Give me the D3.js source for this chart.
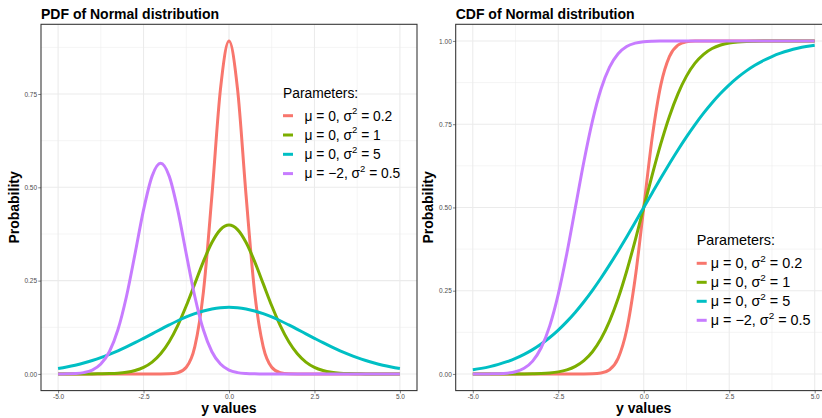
<!DOCTYPE html>
<html>
<head>
<meta charset="utf-8">
<script src="https://cdn.jsdelivr.net/npm/d3@7/dist/d3.min.js"></script>
<style>
  html, body { margin: 0; padding: 0; background: #fff; }
  svg { display: block; }
  text { font-family: "Liberation Sans", Arial, Helvetica, sans-serif; }
</style>
</head>
<body>
<svg id="chart" width="822" height="418"></svg>
<script>
// ---------------- data ----------------
const xValues = [-5,-4.75,-4.5,-4.25,-4,-3.75,-3.5,-3.25,-3,-2.75,-2.5,-2.25,-2,-1.75,-1.5,-1.25,-1,-0.75,-0.5,-0.25,0,
  0.25,0.5,0.75,1,1.25,1.5,1.75,2,2.25,2.5,2.75,3,3.25,3.5,3.75,4,4.25,4.5,4.75,5];

const seriesNames = ["a", "b", "c", "d"];
const muLabels = ["0", "0", "0", "\u22122"];
const sigma2Labels = ["0.2", "1", "5", "0.5"];
const seriesColors = ["#F8766D", "#7CAE00", "#00BFC4", "#C77CFF"];

// PDF values
const pdfA = [0,0,0,0,0,0,0,0,0,0,0,0,0.00004,0.0004,0.0032,0.0179,0.0732,0.2186,0.4775,0.7630,0.8921,
  0.7630,0.4775,0.2186,0.0732,0.0179,0.0032,0.0004,0.00004,0,0,0,0,0,0,0,0,0,0,0,0];
const pdfB = [0,0.00001,0.00002,0.00005,0.0001,0.0004,0.0009,0.0020,0.0044,0.0091,0.0175,0.0317,0.0540,0.0863,0.1295,0.1826,0.2420,0.3011,0.3521,0.3867,0.3989,
  0.3867,0.3521,0.3011,0.2420,0.1826,0.1295,0.0863,0.0540,0.0317,0.0175,0.0091,0.0044,0.0020,0.0009,0.0004,0.0001,0.00005,0.00002,0.00001,0];
const pdfC = [0.0146,0.0187,0.0235,0.0293,0.0360,0.0437,0.0524,0.0620,0.0725,0.0837,0.0955,0.1075,0.1196,0.1313,0.1425,0.1526,0.1614,0.1687,0.1740,0.1773,0.1784,
  0.1773,0.1740,0.1687,0.1614,0.1526,0.1425,0.1313,0.1196,0.1075,0.0955,0.0837,0.0725,0.0620,0.0524,0.0437,0.0360,0.0293,0.0235,0.0187,0.0146];
const pdfD = [0.00007,0.00029,0.00109,0.00357,0.01033,0.0264,0.0595,0.1183,0.2076,0.3215,0.4394,0.5300,0.5642,0.5300,0.4394,0.3215,0.2076,0.1183,0.0595,0.0264,0.01033,
  0.00357,0.00109,0.00029,0.00007,0,0,0,0,0,0,0,0,0,0,0,0,0,0,0,0];

// CDF values
const cdfA = [0,0,0,0,0,0,0,0,0,0,0,0,0,0.00005,0.0004,0.0026,0.0127,0.0468,0.1318,0.2881,0.5,
  0.7119,0.8682,0.9532,0.9873,0.9974,0.9996,0.99995,1,1,1,1,1,1,1,1,1,1,1,1,1];
const cdfB = [0,0,0,0.00001,0.00003,0.0001,0.0002,0.0006,0.0013,0.0030,0.0062,0.0122,0.0228,0.0401,0.0668,0.1056,0.1587,0.2266,0.3085,0.4013,0.5,
  0.5987,0.6915,0.7734,0.8413,0.8944,0.9332,0.9599,0.9772,0.9878,0.9938,0.9970,0.9987,0.9994,0.9998,0.9999,0.99997,0.99999,1,1,1];
const cdfC = [0.0127,0.0168,0.0221,0.0287,0.0368,0.0468,0.0588,0.0731,0.0899,0.1094,0.1318,0.1572,0.1855,0.2169,0.2512,0.2881,0.3274,0.3687,0.4115,0.4555,0.5,
  0.5445,0.5885,0.6313,0.6726,0.7119,0.7488,0.7831,0.8145,0.8428,0.8682,0.8906,0.9101,0.9269,0.9412,0.9532,0.9632,0.9713,0.9779,0.9832,0.9873];
const cdfD = [0.00001,0.00005,0.0002,0.0007,0.0023,0.0067,0.0169,0.0385,0.0786,0.1444,0.2398,0.3618,0.5,0.6382,0.7602,0.8556,0.9214,0.9615,0.9831,0.9933,0.9977,
  0.9993,0.9998,0.99995,1,1,1,1,1,1,1,1,1,1,1,1,1,1,1,1,1];

const xTicks = [-5, -2.5, 0, 2.5, 5];
const yTicks = [0, 0.25, 0.5, 0.75, 1];
const panelTitles = ["PDF of Normal distribution", "CDF of Normal distribution"];
const xTitle = "y values";
const yTitle = "Probability";
const legendTitle = "Parameters:";

// ---------------- layout ----------------
const svg = d3.select("#chart");
svg.append("rect").attr("width", 822).attr("height", 418).attr("fill", "#fff");

const panels = [
  { left: 41, right: 417, series: [pdfA, pdfB, pdfC, pdfD],
    legend: { x: 283, titleY: 98, y0: 115.7, step: 19.3, textX: 304.5, fs: 13.8 } },
  { left: 455.7, right: 831.8, series: [cdfA, cdfB, cdfC, cdfD],
    legend: { x: 696.7, titleY: 245, y0: 263.3, step: 19, textX: 710.7, fs: 14.4 } }
];
const panelTop = 24.3, panelBottom = 390.6;

panels.forEach((p, pi) => {
  const g = svg.append("g");
  const x = d3.scaleLinear().domain([-5.5, 5.5]).range([p.left, p.right]);
  const allY = p.series.flat();
  const ymin = d3.min(allY), ymax = d3.max(allY);
  const pad = (ymax - ymin) * 0.05;
  const y = d3.scaleLinear().domain([ymin - pad, ymax + pad]).range([panelBottom, panelTop]);

  const yT = yTicks.filter(v => v >= y.domain()[0] && v <= y.domain()[1]);
  const yMinor = [];
  for (let i = 0; i < yT.length - 1; i++) yMinor.push((yT[i] + yT[i + 1]) / 2);
  const yNext = yT[yT.length - 1] + 0.125;
  if (yNext <= y.domain()[1]) yMinor.push(yNext);
  const xMinor = [];
  for (let i = 0; i < xTicks.length - 1; i++) xMinor.push((xTicks[i] + xTicks[i + 1]) / 2);

  // grid
  const grid = g.append("g");
  grid.selectAll(".ymin").data(yMinor).join("line")
    .attr("x1", p.left).attr("x2", p.right).attr("y1", d => y(d)).attr("y2", d => y(d))
    .attr("stroke", "#EBEBEB").attr("stroke-width", 0.55);
  grid.selectAll(".xmin").data(xMinor).join("line")
    .attr("y1", panelTop).attr("y2", panelBottom).attr("x1", d => x(d)).attr("x2", d => x(d))
    .attr("stroke", "#EBEBEB").attr("stroke-width", 0.55);
  grid.selectAll(".ymaj").data(yT).join("line")
    .attr("x1", p.left).attr("x2", p.right).attr("y1", d => y(d)).attr("y2", d => y(d))
    .attr("stroke", "#EBEBEB").attr("stroke-width", 1.07);
  grid.selectAll(".xmaj").data(xTicks).join("line")
    .attr("y1", panelTop).attr("y2", panelBottom).attr("x1", d => x(d)).attr("x2", d => x(d))
    .attr("stroke", "#EBEBEB").attr("stroke-width", 1.07);

  // lines
  const clipId = "clip" + pi;
  svg.append("clipPath").attr("id", clipId).append("rect")
    .attr("x", p.left).attr("y", panelTop).attr("width", p.right - p.left).attr("height", panelBottom - panelTop);
  const line = d3.line().x((d, i) => x(xValues[i])).y(d => y(d)).curve(d3.curveMonotoneX);
  g.append("g").attr("clip-path", `url(#${clipId})`)
    .selectAll("path").data(p.series).join("path")
    .attr("d", d => line(d))
    .attr("fill", "none")
    .attr("stroke", (d, i) => seriesColors[i])
    .attr("stroke-width", 3);

  // border
  g.append("rect").attr("x", p.left).attr("y", panelTop)
    .attr("width", p.right - p.left).attr("height", panelBottom - panelTop)
    .attr("fill", "none").attr("stroke", "#333333").attr("stroke-width", 1.07);

  // axes
  const yAxis = d3.axisLeft(y).tickValues(yT).tickSize(2.75).tickPadding(1.2)
    .tickFormat(d => d.toFixed(2));
  const ya = g.append("g").attr("transform", `translate(${p.left},0)`).call(yAxis);
  const xAxis = d3.axisBottom(x).tickValues(xTicks).tickSize(2.75).tickPadding(0.8)
    .tickFormat(d => d.toFixed(1));
  const xa = g.append("g").attr("transform", `translate(0,${panelBottom})`).call(xAxis);
  [ya, xa].forEach(a => {
    a.select(".domain").remove();
    a.selectAll(".tick line").attr("stroke", "#333333").attr("stroke-width", 0.6);
    a.selectAll(".tick text").attr("fill", "#4D4D4D").style("font-size", "6.5px")
      .style("font-family", '"Liberation Sans", Arial, sans-serif');
  });

  // titles
  g.append("text").attr("x", p.left).attr("y", 19)
    .style("font-size", "14px").style("font-weight", "bold").attr("fill", "#000")
    .text(panelTitles[pi]);
  g.append("text").attr("x", (p.left + p.right) / 2).attr("y", 412.5)
    .attr("text-anchor", "middle")
    .style("font-size", "14px").style("font-weight", "bold").attr("fill", "#000")
    .text(xTitle);
  const yx = p.left - 22.5;
  g.append("text").attr("transform", `translate(${yx},${(panelTop + panelBottom) / 2}) rotate(-90)`)
    .attr("text-anchor", "middle")
    .style("font-size", "14px").style("font-weight", "bold").attr("fill", "#000")
    .text(yTitle);

  // legend
  const L = p.legend;
  const lg = g.append("g");
  lg.append("text").attr("x", L.x).attr("y", L.titleY)
    .style("font-size", L.fs + "px").attr("fill", "#000").text(legendTitle);
  seriesNames.forEach((s, i) => {
    const ky = L.y0 + i * L.step;
    lg.append("line").attr("x1", L.x).attr("x2", L.x + 10).attr("y1", ky).attr("y2", ky)
      .attr("stroke", seriesColors[i]).attr("stroke-width", 3);
    const t = lg.append("text").attr("x", L.textX).attr("y", ky + 4.8)
      .style("font-size", L.fs + "px").attr("fill", "#000");
    t.append("tspan").text(`\u03bc = ${muLabels[i]}, \u03c3`);
    t.append("tspan").attr("dy", -6.5).style("font-size", (L.fs * 0.69) + "px").text("2");
    t.append("tspan").attr("dy", 6.5).text(` = ${sigma2Labels[i]}`);
  });
});
</script>
</body>
</html>
